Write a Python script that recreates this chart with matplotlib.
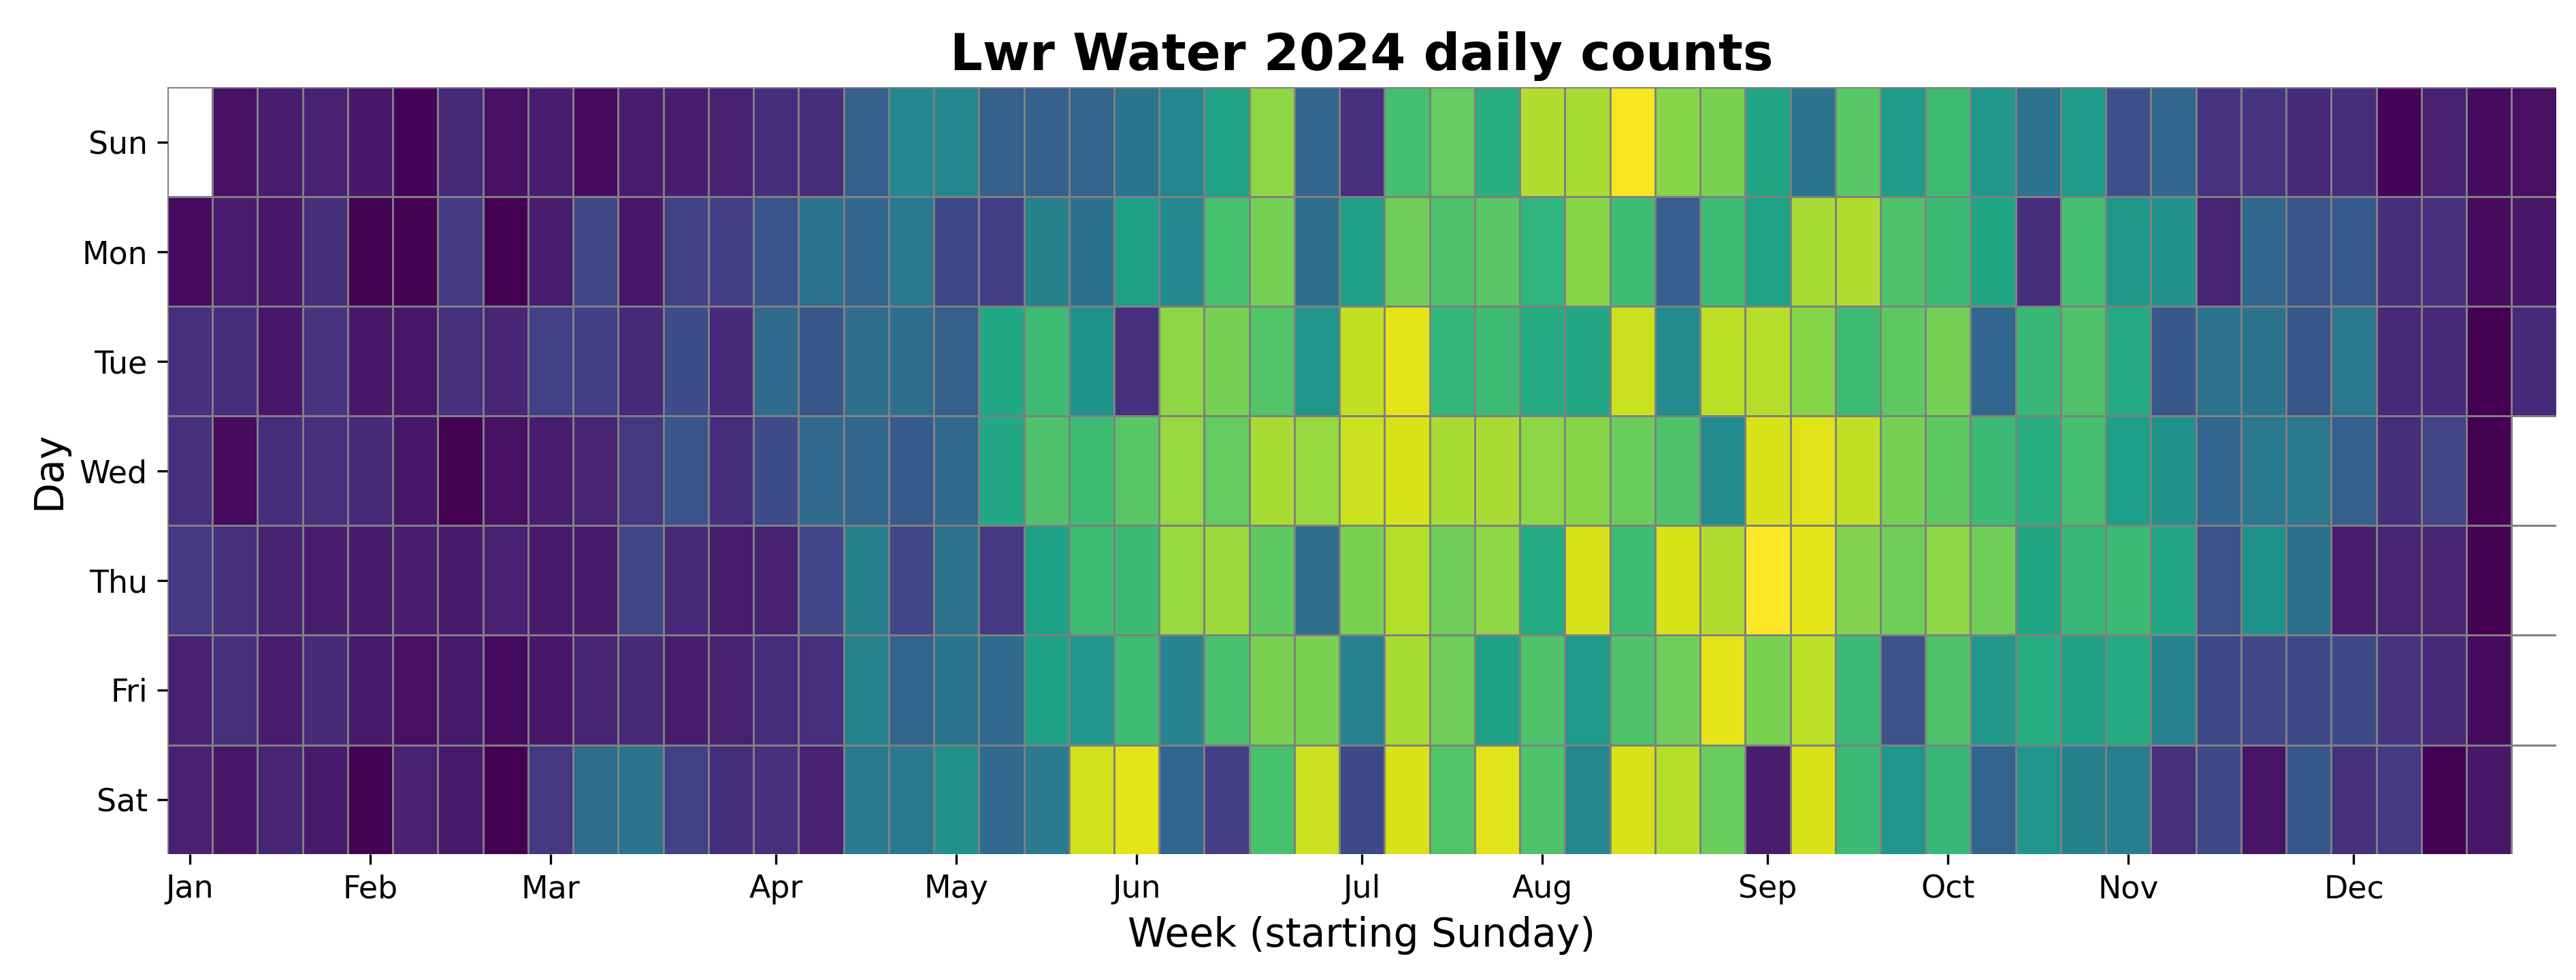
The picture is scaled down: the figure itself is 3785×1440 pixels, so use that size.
import numpy as np
import pandas as pd
import matplotlib
matplotlib.use('Agg')
import matplotlib.pyplot as plt

# week columns start on Sunday 2023-12-31; None = day outside 2024
days = ['Sun', 'Mon', 'Tue', 'Wed', 'Thu', 'Fri', 'Sat']
sun = [None, 4, 8, 9, 6, 1, 11, 4, 8, 3, 8, 8, 9, 13, 13, 30, 47, 47, 30, 30, 32, 39, 46, 58, 83, 33,
       14, 70, 76, 63, 88, 87, 99, 82, 80, 59, 39, 74, 55, 69, 53, 38, 54, 24, 33, 15, 15, 12, 13, 1, 9, 3, 4]
mon = [3, 8, 6, 13, 0, 0, 17, 0, 8, 21, 6, 19, 18, 26, 38, 33, 41, 22, 18, 43, 37, 57, 47, 71, 79, 36,
       56, 78, 72, 74, 65, 82, 69, 29, 69, 58, 87, 88, 72, 68, 59, 13, 70, 53, 50, 10, 33, 26, 28, 13, 14, 3, 6]
tue = [14, 13, 6, 15, 6, 6, 14, 10, 19, 18, 11, 23, 12, 34, 27, 36, 36, 30, 60, 69, 51, 14, 83, 79, 73, 52,
       91, 96, 66, 69, 61, 60, 92, 48, 90, 89, 82, 69, 75, 79, 33, 67, 72, 61, 27, 38, 38, 27, 40, 11, 11, 0, 12]
wed = [14, 3, 13, 14, 12, 6, 0, 4, 8, 10, 16, 26, 13, 23, 34, 33, 28, 34, 60, 72, 69, 74, 84, 76, 87, 84,
       92, 94, 87, 87, 83, 82, 77, 72, 48, 94, 95, 91, 79, 75, 68, 63, 70, 56, 50, 33, 40, 40, 30, 13, 20, 0, None]
thu = [16, 14, 9, 8, 7, 8, 7, 9, 7, 7, 20, 11, 8, 9, 21, 43, 21, 38, 16, 57, 69, 68, 84, 85, 75, 36,
       80, 89, 78, 83, 61, 94, 69, 94, 88, 100, 96, 81, 78, 83, 78, 59, 67, 68, 60, 25, 51, 37, 8, 10, 10, 0, None]
fri = [9, 14, 8, 12, 7, 4, 7, 3, 6, 10, 12, 8, 9, 13, 14, 44, 32, 39, 34, 57, 52, 69, 45, 71, 80, 80,
       44, 87, 78, 57, 72, 54, 72, 78, 96, 80, 90, 68, 25, 72, 53, 62, 57, 61, 44, 22, 21, 22, 22, 15, 11, 3, None]
sat = [9, 6, 10, 7, 0, 9, 7, 0, 16, 35, 38, 19, 13, 14, 9, 41, 40, 50, 34, 41, 93, 96, 33, 18, 71, 92,
       22, 94, 73, 95, 72, 46, 94, 89, 77, 8, 94, 68, 52, 67, 32, 52, 43, 42, 14, 22, 5, 27, 14, 17, 0, 6, None]

grid = np.array([sun, mon, tue, wed, thu, fri, sat], dtype=float)

# month ticks at the week that holds the 1st of each month
first_week = pd.Timestamp('2023-12-31')
month_starts = pd.date_range('2024-01-01', '2024-12-01', freq='MS')
tick_pos = [(d - first_week).days // 7 + 0.5 for d in month_starts]
tick_lab = [d.strftime('%b') for d in month_starts]

fig = plt.figure(figsize=(3785 / 300, 1440 / 300), dpi=300)
ax = fig.add_axes([0.0650, 0.1285, 0.9273, 0.7826])

ax.pcolormesh(np.ma.masked_invalid(grid), cmap='viridis',
              edgecolors='gray', linewidth=0.3)
# trim a hair off the far edges so the outer grid lines get clipped
ax.set_xlim(0, grid.shape[1] - 0.01)
ax.set_ylim(len(days) - 0.004, 0)

ax.set_xticks(tick_pos)
ax.set_xticklabels(tick_lab, fontsize=11)
ax.set_yticks(np.arange(len(days)) + 0.5)
ax.set_yticklabels(days, fontsize=11, rotation=0)

for s in ax.spines.values():
    s.set_visible(False)

ax.set_xlabel('Week (starting Sunday)', fontsize=14)
ax.set_ylabel('Day', fontsize=14)
ax.set_title('Lwr Water 2024 daily counts', fontsize=18, fontweight='bold')

fig.savefig('out.png', dpi=300)
